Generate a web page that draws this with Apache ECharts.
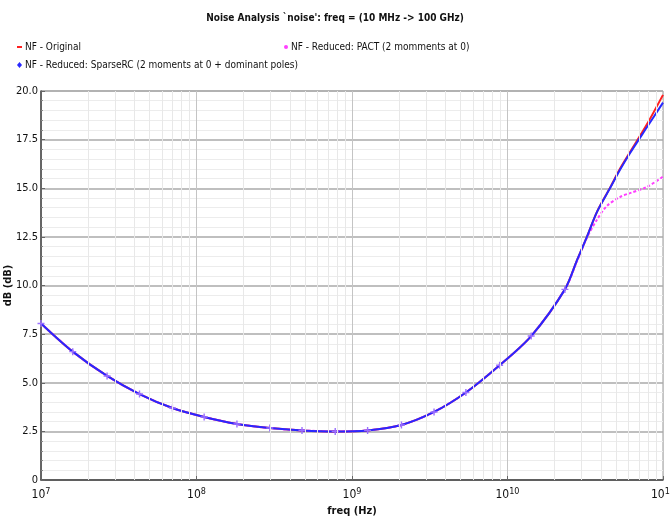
<!DOCTYPE html>
<html><head><meta charset="utf-8">
<script src="https://cdn.jsdelivr.net/npm/echarts@6/dist/echarts.min.js"></script>
<style>html,body{margin:0;padding:0;background:#fff}#c{width:670px;height:523px}</style>
</head><body><div id="c"></div>
<script>
// frequencies (Hz) and NF values (dB)
const freqLow = [1e7, 1.6e7, 2.66e7, 4.3e7, 7e7, 1.12e8, 1.82e8, 2.96e8, 4.77e8, 7.8e8, 1.26e9, 2.08e9, 3.37e9, 5.4e9, 8.9e9, 1.42e10, 2.34e10];
const nfLow   = [8.05, 6.6, 5.35, 4.42, 3.7, 3.24, 2.88, 2.67, 2.55, 2.5, 2.55, 2.83, 3.5, 4.5, 5.9, 7.4, 9.8];
const freqHigh = [2.8e10, 3.24e10, 3.77e10, 4.56e10, 5.29e10, 6.13e10, 7.9e10, 1e11];
const nfSparseHigh = [11.3, 12.5, 13.8, 15.0, 15.95, 16.8, 18.15, 19.4];
const nfOrigHigh   = [11.3, 12.5, 13.8, 15.02, 16.0, 16.85, 18.3, 19.8];
const freqPact = [2.8e10, 3.24e10, 3.77e10, 4.37e10, 5.29e10, 6.13e10, 7.9e10, 1e11];
const nfPactHigh = [11.25, 12.45, 13.4, 14.1, 14.55, 14.75, 15.07, 15.6];
const minorFreqs = [];
[1e7,1e8,1e9,1e10].forEach(d=>{for(let k=2;k<=9;k++) minorFreqs.push(k*d);});
const yTicks = ['0','2.5','5.0','7.5','10.0','12.5','15.0','17.5','20.0'];
const seriesNames = ['NF - Original','NF - Reduced: PACT (2 momments at 0)','NF - Reduced: SparseRC (2 moments at 0 + dominant poles)'];

const FONT = '"DejaVu Sans Condensed","Liberation Sans",sans-serif';
function pairs(xs, ys){ return xs.map((x,i)=>[x, ys[i]]); }
const orig = pairs(freqLow, nfLow).concat(pairs(freqHigh, nfOrigHigh));
const pact = pairs(freqLow, nfLow).concat(pairs(freqPact, nfPactHigh));
const sparse = pairs(freqLow, nfLow).map(p=>({value:p, symbol:'path://M4,0H6V4H10V6H6V10H4V6H0V4H4Z', symbolSize:7, itemStyle:{color:'#9a70ff'}}))
  .concat(pairs(freqHigh, nfSparseHigh).map(p=>({value:p, symbol:'none'})));

const chart = echarts.init(document.getElementById('c'));
chart.setOption({
  animation:false,
  textStyle:{fontFamily:FONT},
  title:{text:'Noise Analysis `noise\': freq = (10 MHz -> 100 GHz)', left:'center', top:8,
    textStyle:{fontSize:10, fontWeight:'bold', color:'#111', fontFamily:FONT}},
  legend:[
    {data:[{name:seriesNames[0], icon:'rect'}], left:12, top:37, itemWidth:5, itemHeight:2, itemGap:3,
      textStyle:{fontSize:10, color:'#111', fontFamily:FONT, padding:[0,0,0,-2]}},
    {data:[{name:seriesNames[1], icon:'circle'}], left:279, top:37, itemWidth:4, itemHeight:4,
      textStyle:{fontSize:10, color:'#111', fontFamily:FONT, padding:[0,0,0,-2]}},
    {data:[{name:seriesNames[2], icon:'diamond'}], left:12, top:55, itemWidth:5, itemHeight:6,
      textStyle:{fontSize:10, color:'#111', fontFamily:FONT, padding:[0,0,0,-2]}}
  ],
  grid:{left:41, right:7, top:91, bottom:43, containLabel:false, outerBoundsMode:'none',
    show:true, borderColor:'#999', borderWidth:1, backgroundColor:'#fff'},
  xAxis:[{
    type:'log', logBase:10, min:1e7, max:1e11, interval:1,
    name:'freq (Hz)', nameLocation:'middle', nameGap:26, nameMoveOverlap:false,
    nameTextStyle:{fontSize:11, fontWeight:'bold', color:'#111', fontFamily:FONT},
    axisLine:{lineStyle:{color:'#444', width:1.5}},
    axisTick:{show:true, inside:true, length:4, lineStyle:{color:'#666'}},
    axisLabel:{color:'#111', fontSize:12, margin:7, hideOverlap:false,
      formatter:function(v){ const e=Math.round(Math.log10(v)); return '{b|10}{s|'+e+'}'; },
      rich:{b:{fontSize:12, fontFamily:FONT, color:'#111'}, s:{fontSize:9, fontFamily:FONT, color:'#111', verticalAlign:'top', padding:[0,0,6,0]}}},
    splitLine:{show:true, lineStyle:{color:'#c4c4c4', width:1}}
  },{
    type:'log', logBase:10, min:1e7, max:1e11, position:'bottom',
    axisLine:{show:false}, axisLabel:{show:false},
    axisTick:{show:true, inside:true, length:3, customValues:minorFreqs, lineStyle:{color:'#888'}},
    splitLine:{show:false}
  }],
  yAxis:{
    type:'value', min:0, max:20, interval:2.5,
    name:'dB (dB)', nameLocation:'middle', nameGap:27, nameRotate:90, nameMoveOverlap:false,
    nameTextStyle:{fontSize:11, fontWeight:'bold', color:'#111', fontFamily:FONT},
    axisLine:{show:true, lineStyle:{color:'#444', width:1.5}},
    axisTick:{show:true, inside:true, length:4, lineStyle:{color:'#666'}},
    minorTick:{show:true, splitNumber:5, length:2, lineStyle:{color:'#888'}},
    minorSplitLine:{show:true, lineStyle:{color:'#ececec', width:1}},
    splitLine:{show:true, lineStyle:{color:'#aaaaaa', width:1.5}},
    axisLabel:{color:'#111', fontSize:11, margin:3, formatter:function(v){ return yTicks[Math.round(v/2.5)]; }}
  },
  series:[
    {name:seriesNames[0], type:'line', data:orig, smooth:0.3, symbol:'none',
      color:'#ff2020', lineStyle:{color:'#ff2020', width:2},
      markLine:{silent:true, symbol:'none', label:{show:false},
        lineStyle:{color:'#e8e8e8', type:'solid', width:1},
        data:minorFreqs.map(f=>({xAxis:f}))}, z:1},
    {name:seriesNames[1], type:'line', data:pact, smooth:0.3, symbol:'none',
      color:'#ff40ff', lineStyle:{color:'#ff40ff', width:2, type:[3,2]}, z:2},
    {name:seriesNames[2], type:'line', data:sparse, smooth:0.3, symbol:'none',
      color:'#2828ff', lineStyle:{color:'#2828ff', width:2}, z:3}
  ]
});
</script></body></html>
